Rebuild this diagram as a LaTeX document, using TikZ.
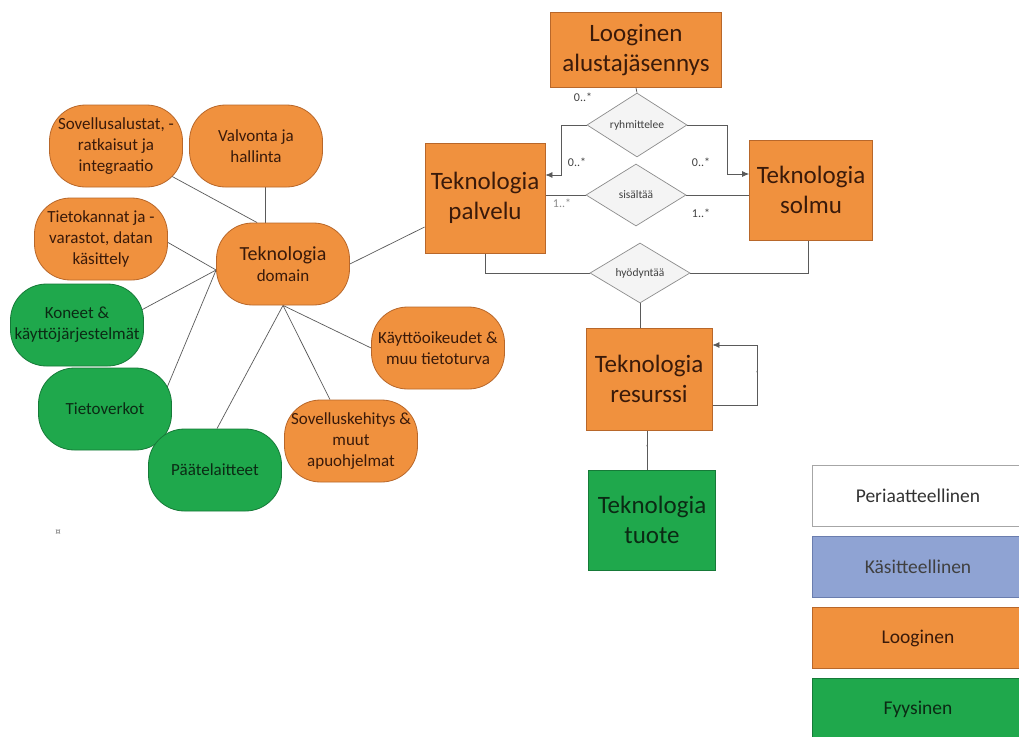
\documentclass[tikz,border=0pt]{standalone}
\usepackage{fontspec}
\setmainfont{Carlito}
\usetikzlibrary{shapes.geometric,arrows.meta,backgrounds}

\definecolor{org}{HTML}{F0913E}
\definecolor{orgline}{HTML}{B8672A}
\definecolor{orgtext}{HTML}{3A1A0A}
\definecolor{grn}{HTML}{1FA84C}
\definecolor{grnline}{HTML}{167A38}
\definecolor{grntext}{HTML}{0B2A14}
\definecolor{blu}{HTML}{8FA3D3}
\definecolor{bluline}{HTML}{6A7DAE}
\definecolor{linegray}{HTML}{5A5A5A}
\definecolor{dia}{HTML}{F4F4F4}
\definecolor{dialine}{HTML}{8C8C8C}

\begin{document}
\begin{tikzpicture}[x=1pt,y=-1pt,
  entity/.style={draw=orgline, fill=org, line width=0.8pt, align=center,
    text=orgtext, inner sep=2pt, font=\fontsize{25}{30}\selectfont},
  physical/.style={entity, draw=grnline, fill=grn, text=grntext},
  bubble/.style={draw=orgline, fill=org, line width=0.8pt, align=center,
    text=orgtext, rounded corners=36pt, minimum width=133pt,
    minimum height=82pt, inner sep=1pt, font=\fontsize{17}{21}\selectfont},
  gbubble/.style={bubble, draw=grnline, fill=grn, text=grntext},
  relation/.style={diamond, draw=dialine, fill=dia, line width=0.7pt,
    minimum width=100pt, minimum height=60pt, inner sep=0pt,
    text=black!75, font=\fontsize{11.5}{13}\selectfont},
  mult/.style={text=black!75, font=\fontsize{12}{14}\selectfont, inner sep=0pt},
  tinymark/.style={text=black!60, font=\fontsize{6}{7}\selectfont, inner sep=0pt},
  link/.style={draw=linegray, line width=0.7pt},
  arr/.style={link, -{Latex[length=7pt,width=6pt]}},
  legendbox/.style={line width=0.8pt, minimum width=212pt, minimum height=61pt,
    font=\fontsize{19.5}{22}\selectfont}
]
\useasboundingbox (0,0) rectangle (1019,736);

% ---------- mind map around the technology domain ----------
\node[bubble] (dom) at (283,264) {\fontsize{20}{23}\selectfont Teknologia\\domain};
\node[bubble] (sov) at (116,146) {Sovellusalustat, -\\ratkaisut ja\\integraatio};
\node[bubble] (val) at (256,146) {Valvonta ja\\hallinta};
\node[bubble] (tk)  at (101,239) {Tietokannat ja -\\varastot, datan\\käsittely};
\node[gbubble] (kon) at (77,325) {Koneet \&\\käyttöjärjestelmät};
\node[gbubble] (tv)  at (105,409) {Tietoverkot};
\node[gbubble] (pt)  at (215,470) {Päätelaitteet};
\node[bubble] (sk)  at (351,441) {Sovelluskehitys \&\\muut\\apuohjelmat};
\node[bubble] (ko)  at (438,348) {Käyttöoikeudet \&\\muu tietoturva};

\node[text=black!55, font=\fontsize{11}{12}\selectfont, inner sep=0pt] (para) at (58,533) {¤};

% ---------- entity / relation part ----------
\node[entity, minimum width=171pt, minimum height=75pt] (log) at (636,50) {Looginen\\alustajäsennys};
\node[entity, minimum width=120pt, minimum height=110pt] (pal) at (485,198) {Teknologia\\palvelu};
\node[entity, minimum width=123pt, minimum height=100pt] (sol) at (811,190) {Teknologia\\solmu};
\node[entity, minimum width=126pt, minimum height=102pt] (res) at (649,379) {Teknologia\\resurssi};
\node[physical, minimum width=127pt, minimum height=100pt] (tu) at (652,520) {Teknologia\\tuote};

\node[relation] (ry) at (637,125) {ryhmittelee};
\node[relation, minimum height=62pt] (si) at (636,195) {sisältää};
\node[relation] (hy) at (640,273) {hyödyntää};

% multiplicities
\node[mult] (m1) at (583,97) {0..*};
\node[mult] (m2) at (577,162) {0..*};
\node[mult] (m3) at (701,162) {0..*};
\node[mult, text=black!45] (m4) at (562,203) {1..*};
\node[mult] (m5) at (701,213) {1..*};

% ---------- legend ----------
\node[legendbox, draw=black!35, fill=white, text=black!80] (lp) at (918,496) {Periaatteellinen};
\node[legendbox, draw=bluline, fill=blu, text=black!75] (lk) at (918,567) {Käsitteellinen};
\node[legendbox, draw=orgline, fill=org, text=orgtext] (ll) at (918,638) {Looginen};
\node[legendbox, draw=grnline, fill=grn, text=grntext] (lf) at (918,709) {Fyysinen};

% ---------- connectors ----------
\begin{pgfonlayer}{background}
  \fill[white] (0,0) rectangle (1019,736);
  % mind map spokes (drawn under the bubbles, so they start at the rounded edge)
  \draw[link] (sov.center) -- (dom.122);
  \draw[link] ([xshift=9pt]val.south) -- ([xshift=-18pt]dom.north);
  \draw[link] ([xshift=-6pt]tk.east) -- ([yshift=-6pt]dom.west);
  \draw[link] ([xshift=-8pt,yshift=12pt]kon.east) -- ([yshift=-6pt]dom.west);
  \draw[link] ([xshift=-8pt,yshift=14pt]tv.east) -- ([yshift=-6pt]dom.west);
  \draw[link] ([xshift=2pt]pt.north) -- (dom.south);
  \draw[link] ([xshift=-21pt]sk.north) -- (dom.south);
  \draw[link] (ko.west) -- (dom.south);
  \draw[link] (dom.east) -- ([yshift=-29pt]pal.west);

  % relations
  \draw[link] (log.south) -- (ry.north);
  \draw[arr] (ry.west) -- ++(-25,0) |- ([yshift=23pt]pal.east);
  \draw[arr] (ry.east) -- ++(40,0) |- ([yshift=16pt]sol.west);
  \draw[link] (si.west) -- (si.west -| pal.east);
  \draw[link] (si.east) -- (si.east -| sol.west);
  \draw[link] (pal.south) |- (hy.west);
  \draw[link] (hy.east) -| ([xshift=-3pt]sol.south);
  \draw[link] (hy.south) -- (hy.south |- res.north);
  \draw[arr] ([yshift=-26pt]res.east) -- ++(45,0) |- ([yshift=34pt]res.east);
  \draw[link] ([xshift=-2pt]res.south) -- ([xshift=-2pt]res.south |- tu.north);
\end{pgfonlayer}
\node[tinymark] (s1) at (757,373) {*};
\node[tinymark] (s2) at (647,447) {*};
\end{tikzpicture}
\end{document}
